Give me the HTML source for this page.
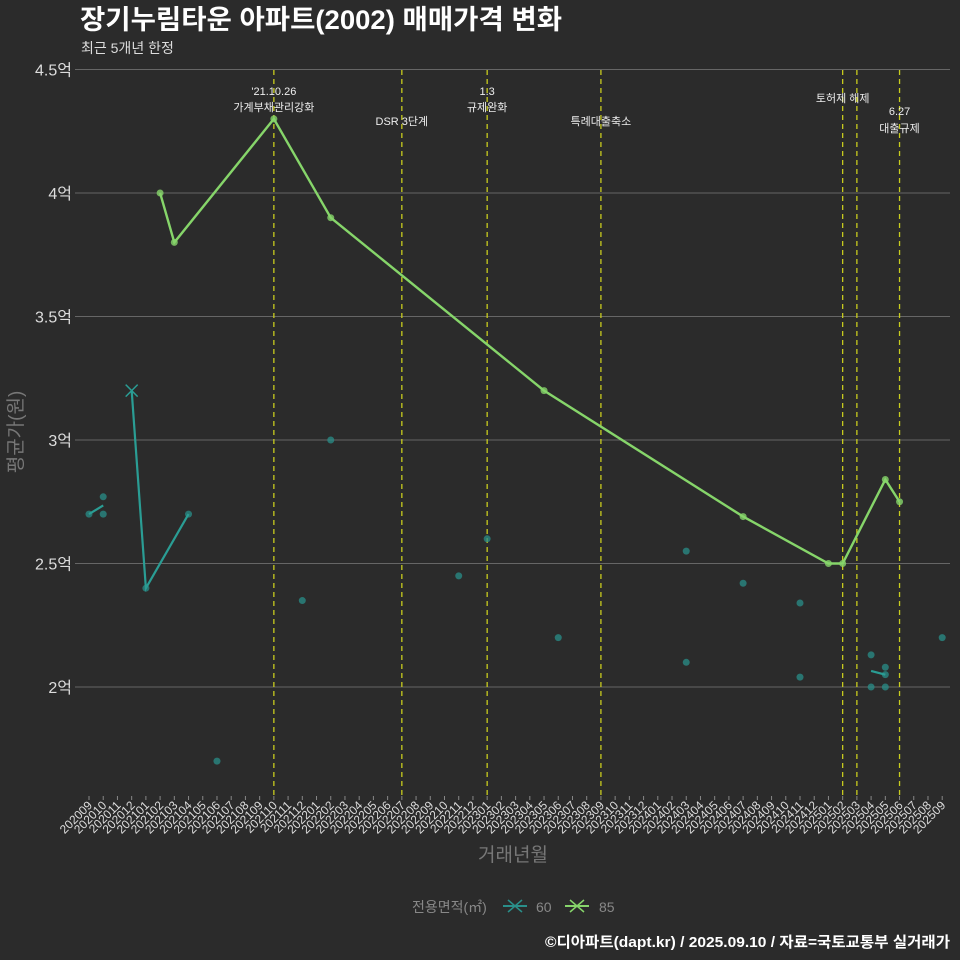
<!DOCTYPE html>
<html><head><meta charset="utf-8">
<style>
html,body{margin:0;padding:0;background:#2b2b2b;}
svg{display:block;font-family:"Liberation Sans","Noto Sans CJK KR",sans-serif;}
</style></head>
<body>
<svg id="chart" width="960" height="960" xmlns="http://www.w3.org/2000/svg">
<rect width="960" height="960" fill="#2b2b2b"/>
<text x="80" y="29" font-size="27" font-weight="bold" fill="#ffffff" textLength="482" lengthAdjust="spacingAndGlyphs">장기누림타운 아파트(2002) 매매가격 변화</text>
<text x="81" y="53" font-size="14" fill="#dddddd">최근 5개년 한정</text>
<text x="0" y="0" transform="translate(22,432) rotate(-90)" font-size="19" fill="#777" text-anchor="middle">평균가(원)</text>
<text x="513" y="861" font-size="19" fill="#777" text-anchor="middle">거래년월</text>
<g>
<text x="412" y="912" font-size="14" fill="#888">전용면적(㎡)</text>
<g>
<line x1="503" y1="906" x2="527" y2="906" stroke="#2a8f8a" stroke-width="2"/>
<path d="M508,900 L522,912 M522,900 L508,912" stroke="#2a8f8a" stroke-width="1.5"/>
<text x="536" y="912" font-size="14" fill="#888">60</text>
</g>
<g>
<line x1="565" y1="906" x2="589" y2="906" stroke="#86d56a" stroke-width="2"/>
<path d="M570,900 L584,912 M584,900 L570,912" stroke="#86d56a" stroke-width="1.5"/>
<text x="599" y="912" font-size="14" fill="#888">85</text>
</g>
</g>
<text x="950" y="947" font-size="15" font-weight="bold" fill="#ffffff" text-anchor="end" textLength="405" lengthAdjust="spacingAndGlyphs">©디아파트(dapt.kr) / 2025.09.10 / 자료=국토교통부 실거래가</text>
<g id="plot"></g>
</svg>
<script>
const months = [];
for (let y = 2020, m = 9; !(y === 2025 && m === 10); ) { months.push(String(y) + String(m).padStart(2,'0')); m++; if (m > 12) { m = 1; y++; } }
const yTicks = [2, 2.5, 3, 3.5, 4, 4.5];
const yTickLabels = ['2억','2.5억','3억','3.5억','4억','4.5억'];
const line60Months = [['202009','202010'], ['202012','202101','202104'], ['202504','202505']];
const line60Values = [[2.70, 2.735], [3.20, 2.40, 2.70], [2.065, 2.05]];
const pts60Months = ['202009','202010','202010','202101','202104','202106','202112','202202','202211','202301','202306','202403','202403','202407','202411','202411','202504','202504','202505','202505','202505','202509'];
const pts60Values = [2.70, 2.77, 2.70, 2.40, 2.70, 1.70, 2.35, 3.00, 2.45, 2.60, 2.20, 2.55, 2.10, 2.42, 2.34, 2.04, 2.13, 2.00, 2.08, 2.05, 2.00, 2.20];
const x60Months = ['202012'];
const x60Values = [3.20];
const line85Months = ['202102','202103','202110','202202','202305','202407','202501','202502','202505','202506'];
const line85Values = [4.00, 3.80, 4.30, 3.90, 3.20, 2.69, 2.50, 2.50, 2.84, 2.75];
const eventMonths = ['202110','202207','202301','202309','202502','202503','202506'];
const eventLabels = [["'21.10.26","가계부채관리강화"],["DSR 3단계"],["1.3","규제완화"],["특례대출축소"],["토허제 해제"],[],["6.27","대출규제"]];
const eventLabelY = [[95,111],[125],[95,111],[125],[102],[],[115,132]];

const NS = 'http://www.w3.org/2000/svg';
const plot = document.getElementById('plot');
const X0 = 89, DX = 14.22, Y2 = 687, PPU = 247;
const xs = m => X0 + months.indexOf(m) * DX;
const ys = v => Y2 - (v - 2) * PPU;
function mk(tag, attrs, parent) { const e = document.createElementNS(NS, tag); for (const k in attrs) e.setAttribute(k, attrs[k]); (parent || plot).appendChild(e); return e; }

yTicks.forEach((t, i) => {
  const g = mk('line', {x1: 75, x2: 950, y1: ys(t), y2: ys(t), stroke: '#666', 'stroke-width': 1});
  
  
  const tx = mk('text', {x: 72, y: ys(t) + 6, 'font-size': 16, fill: '#ddd', 'text-anchor': 'end'});
  tx.textContent = yTickLabels[i];
  
  
});
months.forEach(m => {
  const x = xs(m);
  const tk = mk('line', {x1: x, x2: x, y1: 796, y2: 800, stroke: '#888'});
  
  
  const tx = mk('text', {x: 0, y: 0, transform: `translate(${x + 4},${806}) rotate(-45)`, 'font-size': 12, fill: '#ddd', 'text-anchor': 'end'});
  tx.textContent = m;
  
  
});
eventMonths.forEach((m, i) => {
  const x = xs(m);
  const l = mk('line', {x1: x, x2: x, y1: 70, y2: 796, stroke: '#c8cc1e', 'stroke-width': 1.3, 'stroke-dasharray': '5,4'});
  
  
  eventLabels[i].forEach((s, j) => {
    const t = mk('text', {x: x, y: eventLabelY[i][j], 'font-size': 11, fill: '#eee', 'text-anchor': 'middle'});
    t.textContent = s;
    
    
  });
});
pts60Months.forEach((m, i) => {
  const c = mk('circle', {cx: xs(m), cy: ys(pts60Values[i]), r: 3.5, fill: '#2a8f8a', opacity: 0.75});
  
  
});
line60Months.forEach((seg, i) => {
  const p = mk('polyline', {points: seg.map((m, j) => xs(m) + ',' + ys(line60Values[i][j])).join(' '), fill: 'none', stroke: '#2a9d94', 'stroke-width': 2.2});
  
  
});
x60Months.forEach((m, i) => {
  const x = xs(m), y = ys(x60Values[i]);
  const p = mk('path', {d: `M${x-6},${y-6} L${x+6},${y+6} M${x+6},${y-6} L${x-6},${y+6}`, stroke: '#2a9d94', 'stroke-width': 1.5});
  
  
});
const p85 = mk('polyline', {points: line85Months.map((m, j) => xs(m) + ',' + ys(line85Values[j])).join(' '), fill: 'none', stroke: '#86d56a', 'stroke-width': 2.4});


line85Months.forEach((m, i) => {
  const c = mk('circle', {cx: xs(m), cy: ys(line85Values[i]), r: 3.5, fill: '#86d56a', opacity: 0.8});
  
  
});
</script>
</body></html>
